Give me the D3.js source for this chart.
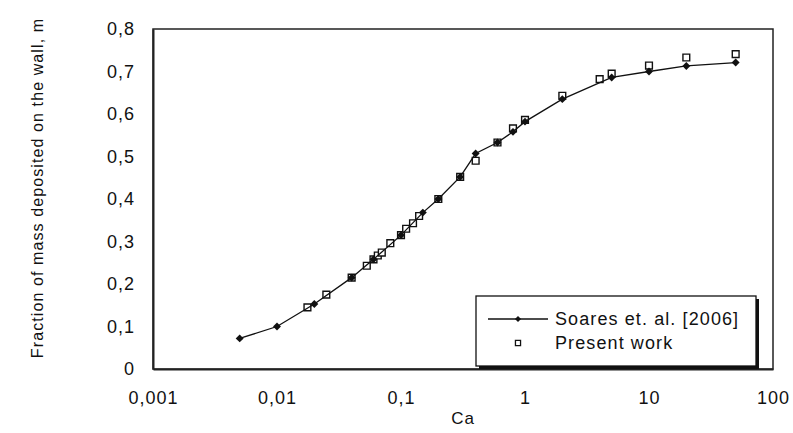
<!DOCTYPE html>
<html>
<head>
<meta charset="utf-8">
<script src="https://cdn.jsdelivr.net/npm/d3@7"></script>
<style>
  body { margin: 0; background: #fff; }
  text { font-family: "Liberation Sans", Arial, sans-serif; fill: #111; }
</style>
</head>
<body>
<div class="chart-box"></div>
<script>
// Soares et. al. [2006]
var soares_ca = [0.005, 0.01, 0.02, 0.04, 0.06, 0.1, 0.15, 0.2, 0.3, 0.4, 0.6, 0.8, 1, 2, 5, 10, 20, 50];
var soares_m  = [0.072, 0.100, 0.153, 0.215, 0.258, 0.315, 0.368, 0.400, 0.452, 0.507, 0.533, 0.558, 0.582, 0.635, 0.686, 0.700, 0.713, 0.721];

// Present work
var present_ca = [0.0176, 0.025, 0.04, 0.053, 0.06, 0.065, 0.07, 0.082, 0.1, 0.11, 0.125, 0.14, 0.2, 0.3, 0.4, 0.6, 0.8, 1, 2, 4, 5, 10, 20, 50];
var present_m  = [0.145, 0.175, 0.215, 0.243, 0.258, 0.267, 0.274, 0.296, 0.315, 0.330, 0.343, 0.360, 0.400, 0.452, 0.490, 0.533, 0.566, 0.586, 0.643, 0.682, 0.695, 0.714, 0.733, 0.741];

var x_ticks = [0.001, 0.01, 0.1, 1, 10, 100];
var x_tick_labels = ["0,001", "0,01", "0,1", "1", "10", "100"];
var y_ticks = [0, 0.1, 0.2, 0.3, 0.4, 0.5, 0.6, 0.7, 0.8];
var y_tick_labels = ["0", "0,1", "0,2", "0,3", "0,4", "0,5", "0,6", "0,7", "0,8"];

var margin = {top: 29, right: 20, bottom: 64, left: 153};
var width = 793, height = 433;
var plot_w = width - margin.left - margin.right,
    plot_h = height - margin.top - margin.bottom;

var svg = d3.select(".chart-box").append("svg")
    .attr("width", width)
    .attr("height", height);

var g = svg.append("g")
    .attr("transform", "translate(" + margin.left + "," + margin.top + ")");

var x = d3.scaleLog().domain([0.001, 100]).range([0, plot_w]);
var y = d3.scaleLinear().domain([0, 0.8]).range([plot_h, 0]);

// plot frame
g.append("rect")
    .attr("width", plot_w).attr("height", plot_h)
    .attr("fill", "none").attr("stroke", "#222").attr("stroke-width", 1.5);

g.append("g")
    .attr("transform", "translate(0," + plot_h + ")")
    .call(d3.axisBottom(x).tickValues(x_ticks).tickSize(0).tickPadding(22)
      .tickFormat(function(d, i) { return x_tick_labels[i]; }))
    .call(function(a) { a.select(".domain").attr("stroke", "#222").attr("stroke-width", 2); })
    .selectAll("text").style("font-size", "18px").style("letter-spacing", "1px").attr("fill", "#111");

g.append("g")
    .call(d3.axisLeft(y).tickValues(y_ticks).tickSize(0).tickPadding(18)
      .tickFormat(function(d, i) { return y_tick_labels[i]; }))
    .call(function(a) { a.select(".domain").attr("stroke", "#222").attr("stroke-width", 2); })
    .selectAll("text").style("font-size", "18px").style("letter-spacing", "1px").attr("fill", "#111");

// axis titles
svg.append("text")
    .attr("x", margin.left + plot_w / 2).attr("y", 424)
    .attr("text-anchor", "middle").style("font-size", "17px").style("letter-spacing", "0.8px").text("Ca");

svg.append("text")
    .attr("transform", "translate(43,188) rotate(-90)")
    .attr("text-anchor", "middle").style("font-size", "16px").style("letter-spacing", "1.1px")
    .text("Fraction of mass deposited on the wall, m");

var soares = soares_ca.map(function(d, i) { return {ca: d, m: soares_m[i]}; });
var present = present_ca.map(function(d, i) { return {ca: d, m: present_m[i]}; });

var diamond = d3.symbol().type(d3.symbolDiamond2).size(40);
var square = d3.symbol().type(d3.symbolSquare).size(46);

// present work squares first, line and diamonds over them
g.selectAll(".present")
    .data(present)
  .enter().append("path")
    .attr("class", "present")
    .attr("transform", function(d) { return "translate(" + x(d.ca) + "," + y(d.m) + ")"; })
    .attr("d", square)
    .attr("fill", "#fff")
    .attr("stroke", "#111").attr("stroke-width", 1.4);

g.append("path")
    .datum(soares)
    .attr("fill", "none").attr("stroke", "#111").attr("stroke-width", 1.3)
    .attr("d", d3.line().x(function(d) { return x(d.ca); }).y(function(d) { return y(d.m); }));

g.selectAll(".soares")
    .data(soares)
  .enter().append("path")
    .attr("class", "soares")
    .attr("transform", function(d) { return "translate(" + x(d.ca) + "," + y(d.m) + ")"; })
    .attr("d", diamond)
    .attr("fill", "#111");

// legend
var lg = svg.append("g").attr("transform", "translate(476,296)");
lg.append("rect").attr("x", 3).attr("y", 3).attr("width", 280).attr("height", 70).attr("fill", "#111");
lg.append("rect").attr("width", 280).attr("height", 70).attr("fill", "#fff").attr("stroke", "#111").attr("stroke-width", 1.3);
lg.append("line").attr("x1", 12).attr("x2", 72).attr("y1", 23).attr("y2", 23).attr("stroke", "#111").attr("stroke-width", 1.3);
lg.append("path").attr("transform", "translate(42,23)").attr("d", d3.symbol().type(d3.symbolDiamond2).size(24)).attr("fill", "#111");
lg.append("path").attr("transform", "translate(42,47)").attr("d", d3.symbol().type(d3.symbolSquare).size(26))
    .attr("fill", "#fff").attr("stroke", "#111").attr("stroke-width", 1.3);
lg.append("text").attr("x", 79).attr("y", 29).style("font-size", "18px").style("letter-spacing", "1.1px").text("Soares et. al. [2006]");
lg.append("text").attr("x", 79).attr("y", 53).style("font-size", "18px").style("letter-spacing", "1.1px").text("Present work");
</script>
</body>
</html>
